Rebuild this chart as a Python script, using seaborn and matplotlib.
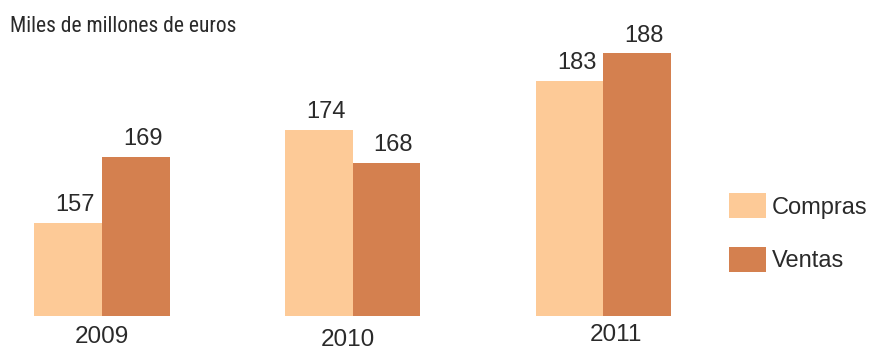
import matplotlib
matplotlib.use("Agg")
import matplotlib.pyplot as plt
import matplotlib.transforms as mtransforms
from matplotlib import font_manager
import seaborn as sns
import pandas as pd

# Data (miles de millones de euros)
years = ["2009", "2010", "2011"]
compras = [157, 174, 183]
ventas = [169, 168, 188]
series_names = ["Compras", "Ventas"]
unit_label = "Miles de millones de euros"

palette = {"Compras": "#FDCA97", "Ventas": "#D4804F"}
text_color = "#2a2a2a"

df = pd.DataFrame({
    "year": years * 2,
    "value": compras + ventas,
    "serie": [series_names[0]] * len(years) + [series_names[1]] * len(years),
})

sns.set_theme(style="white")
plt.rcParams["font.family"] = ["Liberation Sans", "DejaVu Sans"]


def narrow_font():
    """Pick a condensed sans face if one is installed."""
    wanted = ["Liberation Sans Narrow", "Roboto Condensed", "Noto Sans",
              "DejaVu Sans", "Open Sans", "Arimo"]
    cands = []
    for f in font_manager.fontManager.ttflist:
        narrow = ("narrow" in f.name.lower() or "condensed" in f.name.lower()
                  or str(f.stretch).lower() in ("condensed", "semi-condensed",
                                                "extra-condensed"))
        if narrow and f.weight in (400, "normal", "regular") and f.style == "normal":
            cands.append(f)
    for w in wanted:
        for f in cands:
            if f.name.startswith(w.split(" Condensed")[0].split(" Narrow")[0]):
                return font_manager.FontProperties(fname=f.fname)
    if cands:
        return font_manager.FontProperties(fname=cands[0].fname)
    return None


W, H = 881, 349
fig = plt.figure(figsize=(W / 100, H / 100), dpi=100)
fig.patch.set_facecolor("white")

base_px = 315.5            # baseline of the bars, pixels from the top
ax = fig.add_axes([0, (H - base_px) / H, 1, base_px / H])
ax.set_facecolor("none")

sns.barplot(
    data=df, x="year", y="value", hue="serie", hue_order=series_names,
    palette=palette, width=0.54, gap=0, errorbar=None, saturation=1,
    linewidth=0, ax=ax,
)

# value axis starts at 140, category spacing ~251 px
ax.set_ylim(140, 140 + base_px / 5.46)
c0, step = 101.9, 250.75
ax.set_xlim((0 - c0) / step, (W - c0) / step)

for container in ax.containers:
    for bar in container:
        h = bar.get_height()
        ax.annotate(
            f"{h:.0f}",
            xy=(bar.get_x() + bar.get_width() / 2, h),
            xytext=(5, 8.5), textcoords="offset points",
            ha="center", va="baseline", fontsize=17, color=text_color,
            annotation_clip=False,
        )

sns.despine(ax=ax, left=True, bottom=True)
ax.set_xlabel("")
ax.set_ylabel("")
ax.set_yticks([])
ax.tick_params(axis="x", length=0, pad=7.5, labelsize=17.5, labelcolor=text_color)

# small hand-set nudges of the year labels (pixels)
nudges = [(0, 0), (-5, -3), (13, 2)]
for lab, (dx, dy) in zip(ax.get_xticklabels(), nudges):
    lab.set_transform(lab.get_transform() + mtransforms.Affine2D().translate(dx, dy))

handles, labels = ax.get_legend_handles_labels()
ax.legend(
    handles, labels, loc="upper left",
    bbox_to_anchor=(729 / W, 1 - 193 / H), bbox_transform=fig.transFigure,
    frameon=False, fontsize=17, handlelength=1.57, handleheight=1.27,
    handletextpad=0.25, labelspacing=1.2, borderpad=0, borderaxespad=0,
    labelcolor=text_color,
)

fp = narrow_font()
if fp is not None:
    fp.set_size(15.5)
    fig.text(10 / W, 1 - 32 / H, unit_label, va="baseline", ha="left",
             fontproperties=fp, color=text_color)
else:
    fig.text(10 / W, 1 - 32 / H, unit_label, va="baseline", ha="left",
             fontsize=14, color=text_color, family=["Roboto", "Liberation Sans"])

fig.savefig("out.png", dpi=100)
